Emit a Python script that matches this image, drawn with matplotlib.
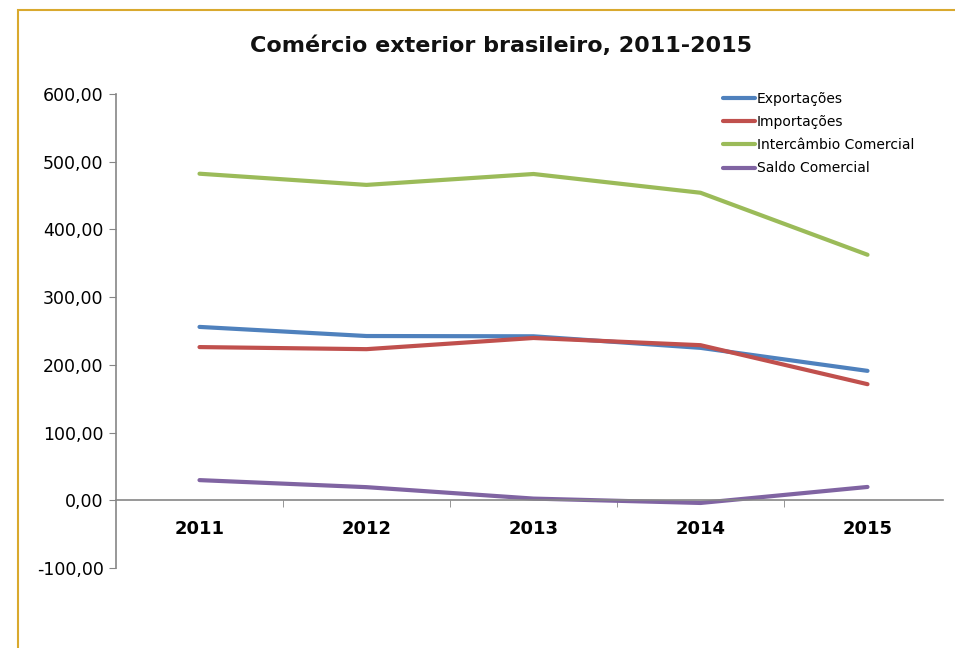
import matplotlib
matplotlib.use("Agg")
from matplotlib import pyplot as plt
from matplotlib.patches import Rectangle
import numpy as np

anos = ['2011', '2012', '2013', '2014', '2015']
exportacoes = [256.04, 242.58, 242.18, 225.10, 191.13]
importacoes = [226.25, 223.18, 239.68, 229.06, 171.45]
intercambio = [482.29, 465.76, 481.86, 454.16, 362.58]
saldo = [29.79, 19.39, 2.50, -3.96, 19.69]

series = [
    ('Exportações', exportacoes, '#4F81BD'),
    ('Importações', importacoes, '#C0504D'),
    ('Intercâmbio Comercial', intercambio, '#9BBB59'),
    ('Saldo Comercial', saldo, '#8064A2'),
]

plt.rcParams['font.family'] = ['DejaVu Sans']

fig = plt.figure(figsize=(9.55, 6.48), dpi=100)

# golden frame (cropped at right and bottom)
fig.patches.append(Rectangle((18/955, -0.05), 1.2, 1 - 10/648 + 0.05,
                             transform=fig.transFigure, fill=False,
                             edgecolor='#D9A92E', linewidth=1.5))

ax = fig.add_axes([116/955, 1 - 568/648, (951 - 116)/955, (568 - 94)/648])

x = np.arange(len(anos))
for nome, vals, cor in series:
    ax.plot(x, vals, color=cor, linewidth=3, label=nome, solid_capstyle='round')

ax.set_xlim(-0.5, 4.5)
ax.set_ylim(-100, 600)
ax.set_yticks(np.arange(-100, 601, 100))
ax.set_yticklabels(['{:.2f}'.format(v).replace('.', ',') for v in np.arange(-100, 601, 100)],
                   fontsize=12.5)

for s in ['top', 'right']:
    ax.spines[s].set_visible(False)
ax.spines['left'].set_color('#868686')
ax.spines['bottom'].set_color('#868686')
ax.spines['bottom'].set_position(('data', 0))
ax.spines['bottom'].set_bounds(-0.5, 4.45)
ax.spines['left'].set_linewidth(1.2)
ax.spines['bottom'].set_linewidth(1.2)

ax.set_xticks(x)
ax.set_xticklabels(anos, fontsize=13, fontweight='bold')
ax.set_xticks(np.arange(0.5, 4, 1), minor=True)
ax.tick_params(axis='x', which='major', length=0, pad=14)
ax.tick_params(axis='x', which='minor', length=5, color='#868686', direction='out')
ax.tick_params(axis='y', length=5, color='#868686', direction='out', pad=4)

ax.legend(loc='upper left', bbox_to_anchor=(0.712, 1.03), frameon=False, fontsize=10,
          handlelength=2.3, handletextpad=0.15, labelspacing=0.65)

fig.text(501/955, 1 - 46/648, 'Comércio exterior brasileiro, 2011-2015', ha='center', va='center',
         fontsize=16, fontweight='bold', color='#111111')

fig.savefig('out.png', dpi=100)
